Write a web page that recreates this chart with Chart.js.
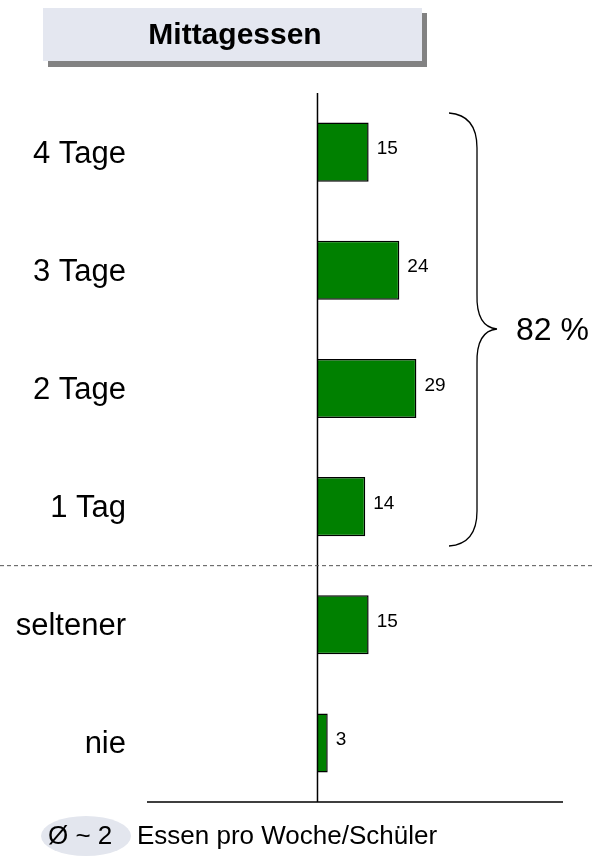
<!DOCTYPE html>
<html>
<head>
<meta charset="utf-8">
<script src="https://cdn.jsdelivr.net/npm/chart.js@4/dist/chart.umd.min.js"></script>
<style>
  html, body { margin: 0; padding: 0; background: #fff; }
  #wrap { width: 593px; height: 863px; position: relative; }
</style>
</head>
<body>
<div id="wrap"><canvas id="myChart" width="593" height="863"></canvas></div>
<script>
var kategorien = ["4 Tage", "3 Tage", "2 Tage", "1 Tag", "seltener", "nie"];
var werte = [15, 24, 29, 14, 15, 3];
var titel = "Mittagessen";
var summeText = "82 %";
var schnittText = "Ø ~ 2";
var fussText = "Essen pro Woche/Schüler";

var FONT = "'Liberation Sans', Arial, sans-serif";

// draws the extra bits: axis lines, labels, brace, title box
var extras = {
  id: "extras",
  afterDatasetsDraw: function (c) {
    var ctx = c.ctx;
    var xs = c.scales.x, ys = c.scales.y, area = c.chartArea;
    var x0 = xs.getPixelForValue(0);
    ctx.save();

    // axis lines
    ctx.strokeStyle = "#000";
    ctx.lineWidth = 1.5;
    ctx.beginPath();
    ctx.moveTo(x0, area.top);
    ctx.lineTo(x0, area.bottom);
    ctx.moveTo(area.left, area.bottom);
    ctx.lineTo(area.right, area.bottom);
    ctx.stroke();

    // category labels
    ctx.fillStyle = "#000";
    ctx.font = "31px " + FONT;
    ctx.textAlign = "right";
    ctx.textBaseline = "middle";
    kategorien.forEach(function (k, i) {
      ctx.fillText(k, 126, ys.getPixelForValue(i) + 2);
    });

    // value labels
    ctx.font = "19px " + FONT;
    ctx.textAlign = "left";
    c.getDatasetMeta(0).data.forEach(function (bar, i) {
      ctx.fillText(String(werte[i]), bar.x + 8, bar.y - 3);
    });

    // dashed separator between 1 Tag and seltener
    var ySep = (ys.getPixelForValue(3) + ys.getPixelForValue(4)) / 2;
    ctx.strokeStyle = "#555";
    ctx.lineWidth = 1;
    ctx.setLineDash([4, 3]);
    ctx.beginPath();
    ctx.moveTo(0, ySep);
    ctx.lineTo(593, ySep);
    ctx.stroke();
    ctx.setLineDash([]);

    // brace over the first four bars
    var top = 113, bot = 546, mid = 329;
    var xa = 449, xb = 477, xt = 497;
    ctx.strokeStyle = "#000";
    ctx.lineWidth = 1.3;
    ctx.beginPath();
    ctx.moveTo(xa, top);
    ctx.quadraticCurveTo(xb, top + 2, xb, top + 35);
    ctx.lineTo(xb, mid - 35);
    ctx.quadraticCurveTo(xb - 1, mid - 2, xt, mid);
    ctx.quadraticCurveTo(xb - 1, mid + 2, xb, mid + 35);
    ctx.lineTo(xb, bot - 35);
    ctx.quadraticCurveTo(xb, bot - 2, xa, bot);
    ctx.stroke();

    ctx.font = "32px " + FONT;
    ctx.textAlign = "left";
    ctx.fillText(summeText, 516, mid + 2);

    // title box with shadow
    ctx.fillStyle = "#828282";
    ctx.fillRect(48, 13, 379, 54);
    ctx.fillStyle = "#e4e7f0";
    ctx.fillRect(43, 8, 379, 53);
    ctx.fillStyle = "#000";
    ctx.font = "bold 30px " + FONT;
    ctx.textAlign = "center";
    ctx.fillText(titel, 235, 36);

    // footer
    ctx.fillStyle = "#e3e6ee";
    ctx.beginPath();
    ctx.ellipse(86, 836, 45, 20, 0, 0, Math.PI * 2);
    ctx.fill();
    ctx.fillStyle = "#000";
    ctx.font = "26px " + FONT;
    ctx.textAlign = "left";
    ctx.fillText(schnittText, 48, 837);
    ctx.fillText(fussText, 137, 837);

    ctx.restore();
  }
};

var ctx = document.getElementById("myChart").getContext("2d");
var chart = new Chart(ctx, {
  type: "bar",
  data: {
    labels: kategorien,
    datasets: [
      {
        data: werte,
        backgroundColor: "#008000",
        borderColor: "#000",
        borderWidth: 1.5,
        barPercentage: 0.5,
        categoryPercentage: 1
      }
    ]
  },
  options: {
    indexAxis: "y",
    responsive: false,
    animation: false,
    layout: { padding: { left: 147, top: 93, right: 30, bottom: 61 } },
    plugins: { legend: { display: false }, tooltip: { enabled: false } },
    scales: {
      x: { display: false, min: -50, max: 72 },
      y: { display: false }
    }
  },
  plugins: [extras]
});
</script>
</body>
</html>
